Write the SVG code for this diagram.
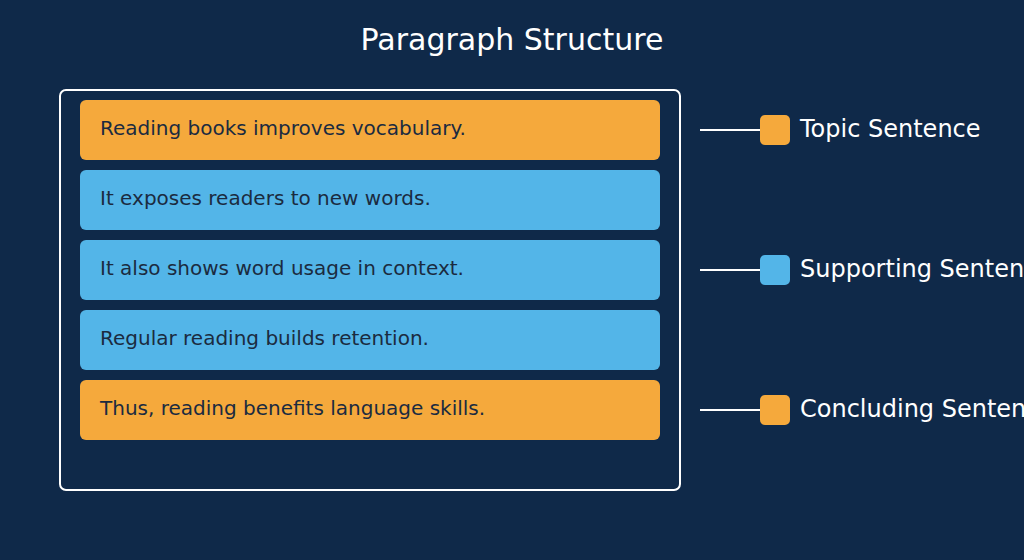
<svg xmlns="http://www.w3.org/2000/svg" width="1024" height="560" viewBox="0 0 1024 560">
<style>
.bg{fill:#0f2949}
.title{font-family:"DejaVu Sans",sans-serif;font-size:30px;fill:#ffffff;text-anchor:middle}
.frame{fill:none;stroke:#ffffff;stroke-width:2}
.topic{fill:#f5a93c}
.support{fill:#53b5e8}
.st{font-family:"DejaVu Sans",sans-serif;font-size:20px;fill:#1b2b40}
.lg{font-family:"DejaVu Sans",sans-serif;font-size:24px;fill:#ffffff}
.conn{stroke:#ffffff;stroke-width:2;fill:none}
</style>
<rect class="bg" x="0" y="0" width="1024" height="560"/>
<text class="title" x="512" y="50">Paragraph Structure</text>
<g id="paragraph">
<rect class="frame" x="60" y="90" width="620" height="400" rx="6"/>
</g>
<g id="s1"><rect class="topic" x="80" y="100" width="580" height="60" rx="6"/><text class="st" x="100" y="135">Reading books improves vocabulary.</text></g>
<g id="s2"><rect class="support" x="80" y="170" width="580" height="60" rx="6"/><text class="st" x="100" y="205">It exposes readers to new words.</text></g>
<g id="s3"><rect class="support" x="80" y="240" width="580" height="60" rx="6"/><text class="st" x="100" y="275">It also shows word usage in context.</text></g>
<g id="s4"><rect class="support" x="80" y="310" width="580" height="60" rx="6"/><text class="st" x="100" y="345">Regular reading builds retention.</text></g>
<g id="s5"><rect class="topic" x="80" y="380" width="580" height="60" rx="6"/><text class="st" x="100" y="415">Thus, reading benefits language skills.</text></g>
<g id="connectors">
<line class="conn" x1="700" y1="130" x2="760" y2="130"/>
<line class="conn" x1="700" y1="270" x2="760" y2="270"/>
<line class="conn" x1="700" y1="410" x2="760" y2="410"/>
</g>
<g id="legend-topic"><rect class="topic" x="760" y="115" width="30" height="30" rx="5"/><text class="lg" x="800" y="137">Topic Sentence</text></g>
<g id="legend-support"><rect class="support" x="760" y="255" width="30" height="30" rx="5"/><text class="lg" x="800" y="277">Supporting Sentences</text></g>
<g id="legend-conclude"><rect class="topic" x="760" y="395" width="30" height="30" rx="5"/><text class="lg" x="800" y="417">Concluding Sentence</text></g>
</svg>
